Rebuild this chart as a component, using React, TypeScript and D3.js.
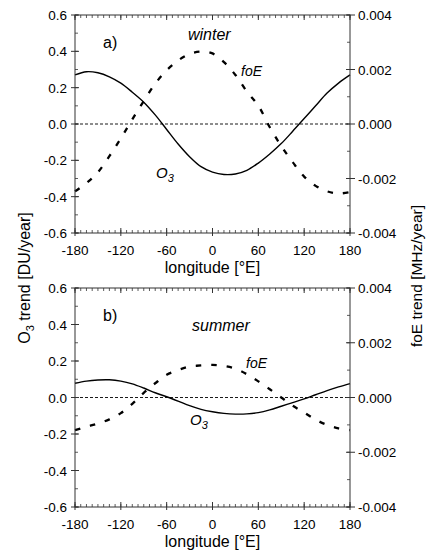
import * as d3 from 'd3';

// longitude grid, every 15 degrees
const longitudes = [
  -180, -165, -150, -135, -120, -105, -90, -75, -60, -45, -30, -15, 0,
  15, 30, 45, 60, 75, 90, 105, 120, 135, 150, 165, 180,
];

// winter, O3 trend [DU/year]
const o3Winter = [
  0.27, 0.288, 0.282, 0.26, 0.225, 0.175, 0.12, 0.05, -0.03, -0.11, -0.18, -0.235, -0.265,
  -0.278, -0.275, -0.255, -0.215, -0.165, -0.108, -0.04, 0.03, 0.1, 0.17, 0.225, 0.27,
];
// winter, foE trend [MHz/year]
const foEWinter = [
  -0.00247, -0.00217, -0.00177, -0.00118, -0.00053, 0.00017, 0.00084, 0.00148, 0.00197,
  0.00233, 0.00257, 0.00266, 0.00259, 0.00227, 0.0018, 0.00119, 0.00067, -0.00012,
  -0.00081, -0.0014, -0.00193, -0.00227, -0.00247, -0.00255, -0.0025,
];
// summer
const o3Summer = [
  0.078, 0.09, 0.096, 0.097, 0.09, 0.075, 0.052, 0.026, 0.004, -0.02, -0.045, -0.065, -0.078,
  -0.087, -0.091, -0.09, -0.083, -0.068, -0.048, -0.028, -0.008, 0.015, 0.038, 0.058, 0.076,
];
const foESummer = [
  -0.00119, -0.00107, -0.00095, -0.0008, -0.00057, -0.00023, 0.00017, 0.00052, 0.00083,
  0.001, 0.00113, 0.00117, 0.00119, 0.00115, 0.00105, 0.00085, 0.00059, 0.0003, 0.0,
  -0.0003, -0.00055, -0.00081, -0.001, -0.00113, -0.00119,
];

const xTicks = [-180, -120, -60, 0, 60, 120, 180];
const o3Ticks = [0.6, 0.4, 0.2, 0.0, -0.2, -0.4, -0.6];
const foETicks = [0.004, 0.002, 0.0, -0.002, -0.004];

const W = 426;
const H = 559;
const left = 75;
const right = 350;
const font = "'Liberation Sans', Arial, sans-serif";

const x = d3.scaleLinear().domain([-180, 180]).range([left, right]);

type PanelProps = {
  top: number;
  bottom: number;
  o3: number[];
  foe: number[];
  tag: string;
  season: string;
  seasonPos: [number, number];
  foePos: [number, number];
  o3Pos: [number, number];
};

function Panel({ top, bottom, o3, foe, tag, season, seasonPos, foePos, o3Pos }: PanelProps) {
  const y = d3.scaleLinear().domain([-0.6, 0.6]).range([bottom, top]);
  const y2 = d3.scaleLinear().domain([-0.004, 0.004]).range([bottom, top]);

  const o3Line = d3.line<number>()
    .x((_, i) => x(longitudes[i]))
    .y(d => y(d))
    .curve(d3.curveCatmullRom);
  const foeLine = d3.line<number>()
    .x((_, i) => x(longitudes[i]))
    .y(d => y2(d))
    .curve(d3.curveCatmullRom);

  const xMinor = d3.range(-180, 180.01, 7.5);
  const yMinor = d3.range(-0.6, 0.601, 0.1);
  const y2Minor = d3.range(-0.004, 0.00401, 0.001);
  const ax = '#333';

  return (
    <g>
      {/* zero line */}
      <line x1={left} x2={right} y1={y(0)} y2={y(0)} stroke="#000" strokeWidth={0.9} strokeDasharray="3,2" />

      {/* curves */}
      <path d={o3Line(o3) ?? ''} fill="none" stroke="#000" strokeWidth={1.4} />
      <path d={foeLine(foe) ?? ''} fill="none" stroke="#000" strokeWidth={2.3} strokeDasharray="5.5,10" />

      {/* frame */}
      <rect x={left} y={top} width={right - left} height={bottom - top} fill="none" stroke={ax} strokeWidth={1} />

      {/* x minor ticks, top and bottom */}
      {xMinor.map(v => (
        <g key={'xm' + v}>
          <line x1={x(v)} x2={x(v)} y1={top} y2={top + 3} stroke={ax} strokeWidth={0.8} />
          <line x1={x(v)} x2={x(v)} y1={bottom} y2={bottom - 3} stroke={ax} strokeWidth={0.8} />
        </g>
      ))}
      {xTicks.map(v => (
        <g key={'xt' + v}>
          <line x1={x(v)} x2={x(v)} y1={bottom - 5} y2={bottom + 3} stroke={ax} strokeWidth={1} />
          <line x1={x(v)} x2={x(v)} y1={top} y2={top + 5} stroke={ax} strokeWidth={1} />
          <text x={x(v)} y={bottom + 22} textAnchor="middle" fontSize={13.5} fontFamily={font}>{v}</text>
        </g>
      ))}

      {/* left axis */}
      {yMinor.map(v => (
        <line key={'ym' + v} x1={left} x2={left + 3} y1={y(v)} y2={y(v)} stroke={ax} strokeWidth={0.8} />
      ))}
      {o3Ticks.map(v => (
        <g key={'yt' + v}>
          <line x1={left - 4} x2={left + 4} y1={y(v)} y2={y(v)} stroke={ax} strokeWidth={1} />
          <text x={left - 8} y={y(v) + 5} textAnchor="end" fontSize={13.5} fontFamily={font}>{v.toFixed(1)}</text>
        </g>
      ))}

      {/* right axis */}
      {y2Minor.map(v => (
        <line key={'y2m' + v} x1={right} x2={right - 3} y1={y2(v)} y2={y2(v)} stroke={ax} strokeWidth={0.8} />
      ))}
      {foETicks.map(v => (
        <g key={'y2t' + v}>
          <line x1={right - 4} x2={right + 5} y1={y2(v)} y2={y2(v)} stroke={ax} strokeWidth={1} />
          <text x={right + 8} y={y2(v) + 5} textAnchor="start" fontSize={13.5} fontFamily={font}>{v.toFixed(3)}</text>
        </g>
      ))}

      {/* annotations */}
      <text x={left + 28} y={top + 33} fontSize={16} fontFamily={font}>{tag}</text>
      <text x={seasonPos[0]} y={seasonPos[1]} fontSize={16} fontStyle="italic" fontFamily={font}>{season}</text>
      <text x={foePos[0]} y={foePos[1]} fontSize={14} fontStyle="italic" fontFamily={font}>foE</text>
      <text x={o3Pos[0]} y={o3Pos[1]} fontSize={15} fontStyle="italic" fontFamily={font}>
        O<tspan dy={4} fontSize={11}>3</tspan>
      </text>

      {/* x title */}
      <text x={(left + right) / 2} y={bottom + 40} textAnchor="middle" fontSize={16} fontFamily={font}>longitude [°E]</text>
    </g>
  );
}

export default function App() {
  return (
    <svg width={W} height={H} style={{ position: 'absolute', left: 0, top: 0, background: '#fff' }}>
      <Panel top={15} bottom={233} o3={o3Winter} foe={foEWinter} tag="a)"
        season="winter" seasonPos={[188, 40]} foePos={[241, 76]} o3Pos={[156, 178]} />
      <Panel top={288} bottom={507} o3={o3Summer} foe={foESummer} tag="b)"
        season="summer" seasonPos={[192, 331]} foePos={[246, 368]} o3Pos={[190, 425]} />

      {/* y titles */}
      <text transform="translate(30,278) rotate(-90)" textAnchor="middle" fontSize={16} fontFamily={font}>
        O<tspan dy={4} fontSize={11}>3</tspan><tspan dy={-4}> trend [DU/year]</tspan>
      </text>
      <text transform="translate(422,276) rotate(-90)" textAnchor="middle" fontSize={15.5} fontFamily={font}>
        foE trend [MHz/year]
      </text>
    </svg>
  );
}
